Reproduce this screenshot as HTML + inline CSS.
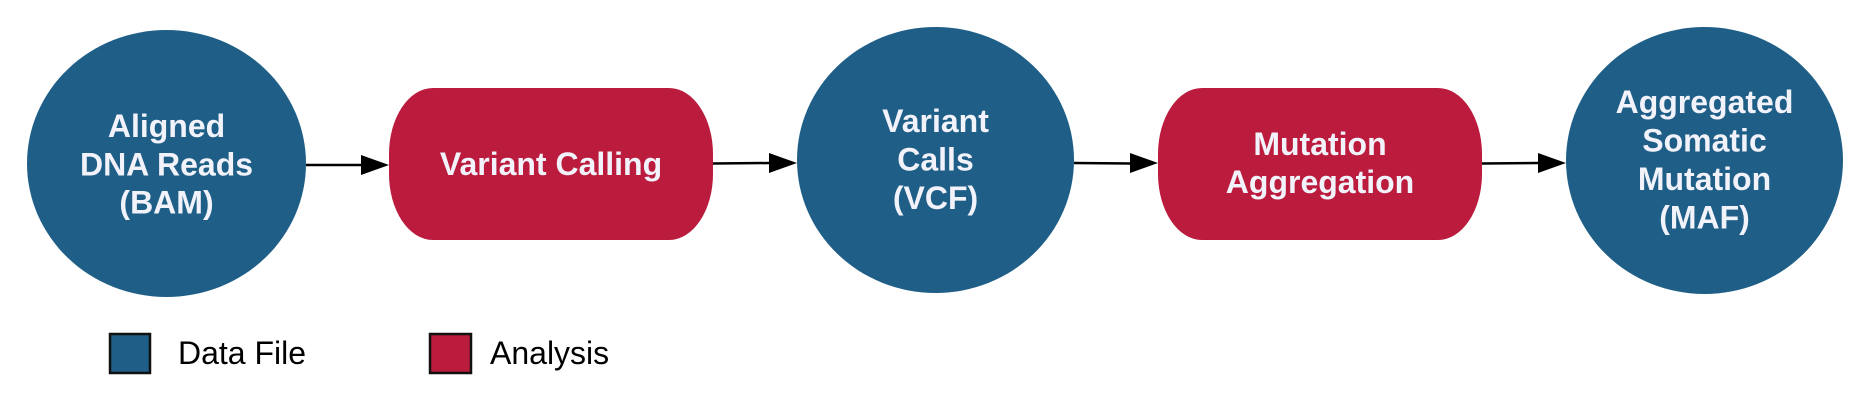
<!DOCTYPE html>
<html>
<head>
<meta charset="utf-8">
<style>
  html, body { margin: 0; padding: 0; background: #ffffff; }
  body { width: 1872px; height: 402px; overflow: hidden; }
  svg { display: block; }
  .node { font-family: "Liberation Sans", Arial, sans-serif; font-weight: bold; font-size: 32px; fill: #f2f2fa; }
  .leg { font-family: "Liberation Sans", Arial, sans-serif; font-size: 32px; fill: #000; }
</style>
</head>
<body>
<svg width="1872" height="402" viewBox="0 0 1872 402" xmlns="http://www.w3.org/2000/svg">
  <rect width="1872" height="402" fill="#ffffff"/>

  <!-- Ellipses (data files) -->
  <ellipse cx="166.5" cy="163.5" rx="139.5" ry="133.5" fill="#1f5f87"/>
  <ellipse cx="935.5" cy="160" rx="138.5" ry="133" fill="#1f5f87"/>
  <ellipse cx="1704.5" cy="160.5" rx="138.5" ry="133.5" fill="#1f5f87"/>

  <!-- Pills (analysis) -->
  <rect x="389" y="88" width="324" height="152" rx="44" ry="66" fill="#bb1c3d"/>
  <rect x="1158" y="88" width="324" height="152" rx="44" ry="66" fill="#bb1c3d"/>

  <!-- Arrows -->
  <g stroke="#000" stroke-width="2.5" fill="none">
    <line x1="306" y1="165" x2="362" y2="165"/>
    <line x1="713" y1="163.5" x2="770" y2="163"/>
    <line x1="1074" y1="163" x2="1131" y2="163.5"/>
    <line x1="1482" y1="163.5" x2="1539" y2="163"/>
  </g>
  <g fill="#000">
    <polygon points="361,155 389,165 361,175"/>
    <polygon points="769,153 797,163 769,173"/>
    <polygon points="1130,153 1158,163 1130,173"/>
    <polygon points="1538,153 1566,163 1538,173"/>
  </g>

  <!-- Node labels -->
  <g class="node" text-anchor="middle">
    <text x="166.5" y="137">Aligned</text>
    <text x="166.5" y="175.5">DNA Reads</text>
    <text x="166.5" y="213.5">(BAM)</text>

    <text x="551" y="175">Variant Calling</text>

    <text x="935.5" y="132">Variant</text>
    <text x="935.5" y="170.5">Calls</text>
    <text x="935.5" y="209">(VCF)</text>

    <text x="1320" y="155">Mutation</text>
    <text x="1320" y="193">Aggregation</text>

    <text x="1704.5" y="113">Aggregated</text>
    <text x="1704.5" y="151.5">Somatic</text>
    <text x="1704.5" y="190">Mutation</text>
    <text x="1704.5" y="228.5">(MAF)</text>
  </g>

  <!-- Legend -->
  <rect x="110" y="334" width="40" height="39" fill="#1f5f87" stroke="#111" stroke-width="2.5"/>
  <text class="leg" x="178" y="364">Data File</text>
  <rect x="430" y="334" width="41" height="39" fill="#bb1c3d" stroke="#111" stroke-width="2.5"/>
  <text class="leg" x="490" y="364">Analysis</text>
</svg>
</body>
</html>
